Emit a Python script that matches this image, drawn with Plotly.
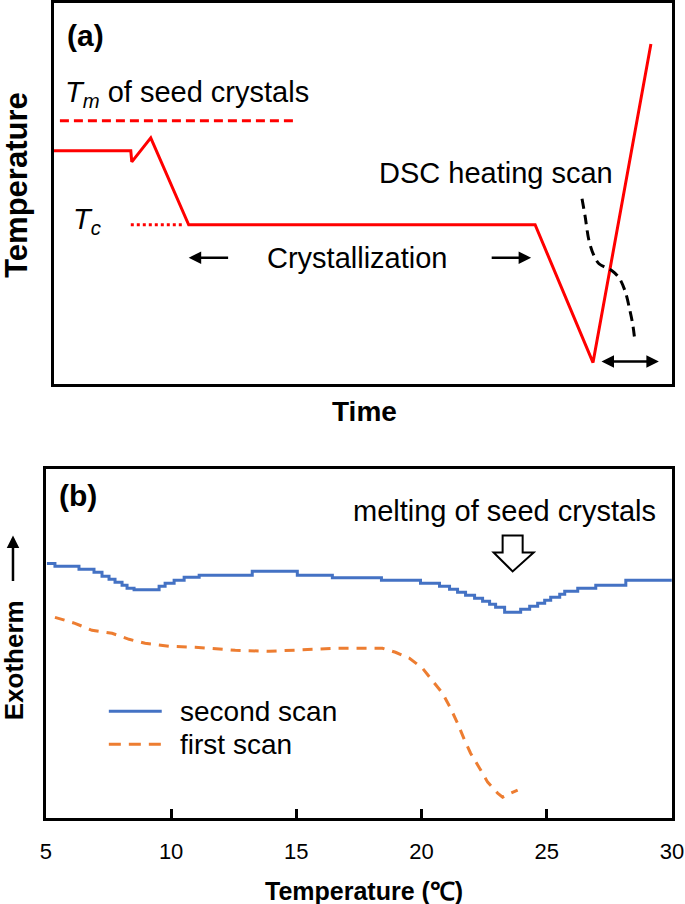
import plotly.graph_objects as go

# ---------------- Panel (a): schematic temperature program ----------------
# arbitrary time / temperature units
profile_time = [0, 77, 78, 97, 135, 482, 540, 598]
profile_temp = [233, 233, 222, 246, 159, 159, 21, 340]

tm_time = [6, 242]
tm_temp = [263, 263]

tc_time = [77, 129]
tc_temp = [159, 159]

dsc_time = [529, 532, 536, 541, 546, 553, 559, 566, 572, 577, 580, 582]
dsc_temp = [185, 168, 143, 128, 120, 116, 113, 106, 93, 73, 58, 42]

# ---------------- Panel (b): DSC curves ----------------
second_T = [5.04, 5.36, 6.32, 6.92, 7.24, 7.52, 7.76, 8.04, 8.24, 8.52, 9.52, 9.76,
            10.12, 10.52, 11.12, 13.24, 15.04, 16.44, 18.4, 19.96, 20.72, 21.12,
            21.44, 21.76, 22.12, 22.44, 22.72, 22.96, 23.32, 23.96, 24.32, 24.64,
            24.92, 25.16, 25.52, 25.72, 26.24, 26.96, 28.16, 30.0]
second_y = [255, 252, 249, 246, 242, 239, 236, 233, 230, 228.5, 232, 235,
            238, 241, 243, 247, 243, 240.5, 238, 235, 232, 229,
            226, 223, 220, 217, 214, 211, 206, 209, 212, 215,
            218, 221, 224, 227, 230, 233, 238, 238]

first_T = [5.36, 6.16, 6.84, 7.64, 8.32, 8.96, 9.92, 10.96, 12.56, 13.92, 16.56,
           18.44, 18.96, 19.52, 20.04, 20.44, 20.84, 21.16, 21.44, 21.72, 21.96,
           22.32, 22.64, 23.04, 23.24, 23.56, 23.84]
first_y = [201, 195, 188, 185, 179, 175, 172, 171, 168, 167, 170,
           170, 166, 160, 150, 138, 125, 110, 95, 78, 65,
           50, 36, 25, 21, 25, 28]

x_ticks = [5, 10, 15, 20, 25, 30]
series_names = ["second scan", "first scan"]

RED = "#FF0000"
BLUE = "#4472C4"
ORANGE = "#ED7D31"
FONT = "Liberation Sans, Arial, sans-serif"

# page geometry (horizontal compensation for how the page is captured)
WL, H = 702, 904
SX, OX = 0.976, 3.0


def px_x(p):
    return ((p - OX) / SX) / WL


def px_y(p):
    return 1 - p / H


fig = go.Figure()

# panel a traces
fig.add_trace(go.Scatter(x=profile_time, y=profile_temp, mode="lines",
                         line=dict(color=RED, width=3), showlegend=False,
                         xaxis="x", yaxis="y"))
fig.add_trace(go.Scatter(x=tm_time, y=tm_temp, mode="lines",
                         line=dict(color=RED, width=3, dash="9px,5px"), showlegend=False,
                         xaxis="x", yaxis="y"))
fig.add_trace(go.Scatter(x=tc_time, y=tc_temp, mode="lines",
                         line=dict(color=RED, width=3, dash="3px,3px"), showlegend=False,
                         xaxis="x", yaxis="y"))
fig.add_trace(go.Scatter(x=dsc_time, y=dsc_temp, mode="lines",
                         line=dict(color="black", width=3, dash="10px,6px", shape="spline"),
                         showlegend=False, xaxis="x", yaxis="y"))

# panel b traces
fig.add_trace(go.Scatter(x=second_T, y=second_y, mode="lines", name=series_names[0],
                         line=dict(color=BLUE, width=3, shape="hv"), showlegend=False,
                         xaxis="x2", yaxis="y2"))
fig.add_trace(go.Scatter(x=first_T, y=first_y, mode="lines", name=series_names[1],
                         line=dict(color=ORANGE, width=3, dash="10px,8px"), showlegend=False,
                         xaxis="x2", yaxis="y2"))


def txt(**kw):
    d = dict(showarrow=False, xanchor="center", yanchor="middle")
    d.update(kw)
    return d


ann = []
# panel a annotations (data coords of panel a)
ann.append(txt(x=32, y=348, xref="x", yref="y", text="<b>(a)</b>",
               font=dict(size=30, color="black")))
ann.append(txt(x=9, y=290, xref="x", yref="y", xanchor="left",
               text="<i>T</i><sub><i>m</i></sub> of seed crystals",
               font=dict(size=29, color="black")))
ann.append(txt(x=17, y=163, xref="x", yref="y", xanchor="left",
               text="<i>T</i><sub><i>c</i></sub>",
               font=dict(size=29, color="black")))
ann.append(txt(x=304, y=126, xref="x", yref="y", text="Crystallization",
               font=dict(size=29, color="black")))
ann.append(txt(x=443, y=211, xref="x", yref="y", text="DSC heating scan",
               font=dict(size=29, color="black")))
# crystallization arrows
ann.append(dict(x=135, y=126, ax=176, ay=126, xref="x", yref="y", axref="x", ayref="y",
                text="", showarrow=True, arrowhead=2, arrowsize=1, arrowwidth=2.5,
                arrowcolor="black"))
ann.append(dict(x=478, y=126, ax=437, ay=126, xref="x", yref="y", axref="x", ayref="y",
                text="", showarrow=True, arrowhead=2, arrowsize=1, arrowwidth=2.5,
                arrowcolor="black"))
# double arrow
ann.append(dict(x=606, y=22, ax=547, ay=22, xref="x", yref="y", axref="x", ayref="y",
                text="", showarrow=True, arrowhead=2, startarrowhead=2, arrowside="end+start",
                arrowsize=1, startarrowsize=1, arrowwidth=2.5, arrowcolor="black"))
# axis titles panel a
ann.append(txt(x=px_x(14), y=px_y(184), xref="paper", yref="paper", text="<b>Temperature</b>",
               textangle=-90, font=dict(size=31, color="black")))
ann.append(txt(x=px_x(362), y=px_y(411), xref="paper", yref="paper", text="<b>Time</b>",
               font=dict(size=28, color="black")))

# panel b annotations
ann.append(txt(x=6.3, y=323, xref="x2", yref="y2", text="<b>(b)</b>",
               font=dict(size=30, color="black")))
ann.append(txt(x=23.3, y=307, xref="x2", yref="y2", text="melting of seed crystals",
               font=dict(size=29, color="black")))
ann.append(txt(x=px_x(11), y=px_y(660), xref="paper", yref="paper", text="<b>Exotherm</b>",
               textangle=-90, font=dict(size=26, color="black")))
ann.append(dict(x=px_x(10), y=px_y(535), ax=0, ay=47, xref="paper", yref="paper",
                axref="pixel", ayref="pixel", text="", showarrow=True, arrowhead=2,
                arrowsize=1, arrowwidth=2.5, arrowcolor="black"))
ann.append(txt(x=px_x(362), y=px_y(891), xref="paper", yref="paper",
               text="<b>Temperature (℃)</b>", font=dict(size=25, color="black")))
# legend entries (text)
ann.append(txt(x=px_x(175), y=px_y(711), xref="paper", yref="paper", xanchor="left",
               text=series_names[0], font=dict(size=28, color="black")))
ann.append(txt(x=px_x(175), y=px_y(744), xref="paper", yref="paper", xanchor="left",
               text=series_names[1], font=dict(size=28, color="black")))

shapes = [
    dict(type="path", xref="x2", yref="y2",
         path="M 23.24,283 L 24.04,283 L 24.04,266 L 24.48,266 L 23.64,247 L 22.88,266 L 23.24,266 Z",
         line=dict(color="black", width=2), fillcolor="white"),
    # legend keys
    dict(type="line", xref="paper", yref="paper", x0=px_x(106), x1=px_x(159),
         y0=px_y(711), y1=px_y(711), line=dict(color=BLUE, width=3)),
    dict(type="line", xref="paper", yref="paper", x0=px_x(106), x1=px_x(161),
         y0=px_y(744), y1=px_y(744), line=dict(color=ORANGE, width=3, dash="12px,8px")),
]

fig.update_layout(
    width=WL, height=H,
    margin=dict(l=0, r=0, t=0, b=0),
    paper_bgcolor="white", plot_bgcolor="white",
    font=dict(family=FONT, color="black"),
    showlegend=False,
    xaxis=dict(domain=[px_x(51), px_x(670)], range=[0, 619], showgrid=False, zeroline=False,
               showticklabels=False, ticks="", showline=True, mirror=True,
               linecolor="black", linewidth=3, anchor="y"),
    yaxis=dict(domain=[px_y(383), px_y(2)], range=[0, 381], showgrid=False, zeroline=False,
               showticklabels=False, ticks="", showline=True, mirror=True,
               linecolor="black", linewidth=3, anchor="x"),
    xaxis2=dict(domain=[px_x(43), px_x(670)], range=[5, 30], showgrid=False, zeroline=False,
                tickvals=x_ticks, ticktext=[str(v) for v in x_ticks], ticks="inside",
                ticklen=9, tickwidth=2.5, tickcolor="black", ticklabelstandoff=12,
                tickfont=dict(size=22, color="black"), showline=True, mirror=True,
                linecolor="black", linewidth=3, anchor="y2"),
    yaxis2=dict(domain=[px_y(818), px_y(469)], range=[0, 349], showgrid=False, zeroline=False,
                showticklabels=False, ticks="", showline=True, mirror=True,
                linecolor="black", linewidth=3, anchor="x2"),
    annotations=ann,
    shapes=shapes,
)

fig.write_html("out.html", config={"displayModeBar": False},
               post_script="document.body.style.margin='0px';"
                           "document.body.style.overflow='hidden';"
                           "document.documentElement.style.overflow='hidden';")
